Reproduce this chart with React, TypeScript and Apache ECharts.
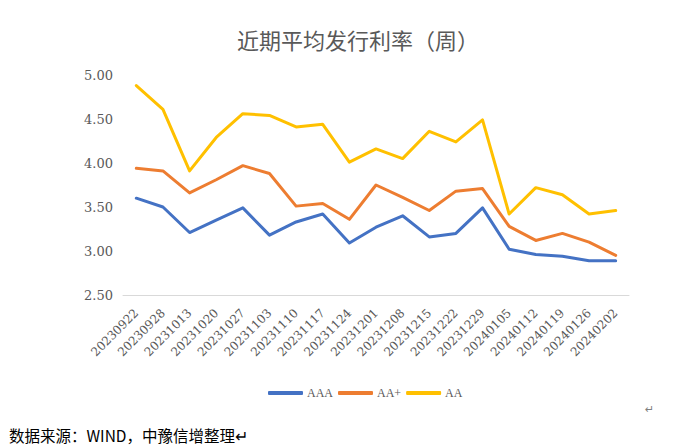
import React, { useEffect, useRef } from "react";
import * as echarts from "echarts";

const categories = [
  "20230922", "20230928", "20231013", "20231020", "20231027", "20231103", "20231110",
  "20231117", "20231124", "20231201", "20231208", "20231215", "20231222", "20231229",
  "20240105", "20240112", "20240119", "20240126", "20240202",
];
const aaa = [3.60, 3.50, 3.21, 3.35, 3.49, 3.18, 3.33, 3.42, 3.09, 3.27, 3.40, 3.16, 3.20, 3.49, 3.02, 2.96, 2.94, 2.89, 2.89];
const aaPlus = [3.94, 3.91, 3.66, 3.81, 3.97, 3.88, 3.51, 3.54, 3.36, 3.75, 3.61, 3.46, 3.68, 3.71, 3.28, 3.12, 3.20, 3.10, 2.95];
const aa = [4.88, 4.61, 3.91, 4.29, 4.56, 4.54, 4.41, 4.44, 4.01, 4.16, 4.05, 4.36, 4.24, 4.49, 3.42, 3.72, 3.64, 3.42, 3.46];
const yTicks = { min: 2.5, max: 5, interval: 0.5 };

const TEXT = "#595959";
const CJK = "'Noto Sans CJK SC', sans-serif";
const NUM = "'DejaVu Serif', 'Liberation Serif', serif";
const LEG = "'Liberation Serif', serif";

export default function App() {
  const ref = useRef<HTMLDivElement>(null);
  useEffect(() => {
    if (!ref.current) return;
    const chart = echarts.init(ref.current, undefined, { renderer: "svg" });
    const mk = (name: string, data: number[], color: string) => ({
      name,
      type: "line",
      data,
      symbol: "none",
      lineStyle: { width: 3, color, cap: "round", join: "round" },
      itemStyle: { color },
    });
    chart.setOption({
      animation: false,
      backgroundColor: "#ffffff",
      title: {
        text: "近期平均发行利率（周）",
        left: 353,
        textAlign: "center",
        top: 23,
        textStyle: { fontFamily: CJK, fontSize: 22, fontWeight: "normal", color: TEXT },
      },
      grid: { left: 123, right: 45, top: 75, bottom: 151 },
      legend: {
        left: 263,
        top: 382,
        icon: "roundRect",
        itemWidth: 35,
        itemHeight: 4,
        itemGap: 5,
        textStyle: { fontFamily: LEG, fontSize: 12, color: TEXT, padding: [0, 0, 0, -1] },
        data: ["AAA", "AA+", "AA"],
      },
      xAxis: {
        type: "category",
        data: categories,
        boundaryGap: true,
        axisLine: { show: true, lineStyle: { color: "#d9d9d9", width: 1 } },
        axisTick: { show: false },
        axisLabel: {
          interval: 0,
          rotate: 45,
          margin: 16,
          fontFamily: NUM,
          fontSize: 12,
          color: TEXT,
        },
      },
      yAxis: {
        type: "value",
        min: yTicks.min,
        max: yTicks.max,
        interval: yTicks.interval,
        axisLine: { show: false },
        axisTick: { show: false },
        splitLine: { show: false },
        axisLabel: {
          margin: 10,
          fontFamily: NUM,
          fontSize: 13,
          color: TEXT,
          formatter: (v: number) => v.toFixed(2),
        },
      },
      series: [
        mk("AAA", aaa, "#4472C4"),
        mk("AA+", aaPlus, "#ED7D31"),
        mk("AA", aa, "#FFC000"),
      ],
      graphic: [
        {
          type: "text",
          left: 645,
          top: 404,
          style: { text: "↵", fontSize: 11, fill: "#7f7f7f", fontFamily: "'DejaVu Sans'" },
        },
        {
          type: "text",
          left: 9,
          top: 427,
          style: {
            text: "数据来源：WIND，中豫信增整理↵",
            fontSize: 15.5,
            fill: "#000000",
            fontFamily: CJK,
          },
        },
      ],
    });
    return () => chart.dispose();
  }, []);
  return (
    <div
      ref={ref}
      style={{ position: "fixed", left: 0, top: 0, width: 674, height: 446 }}
    />
  );
}
